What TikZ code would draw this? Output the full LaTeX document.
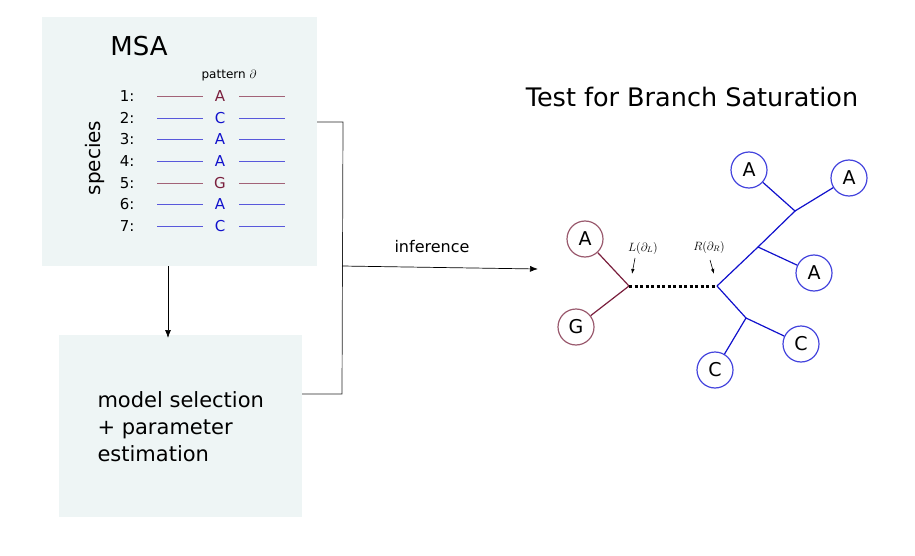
\documentclass[tikz,border=0pt]{standalone}
\usepackage{fontspec}
\setmainfont{DejaVu Sans}
\usetikzlibrary{arrows.meta}
\definecolor{boxbg}{HTML}{EEF5F5}
\definecolor{redc}{HTML}{7A1F3D}
\definecolor{redl}{HTML}{9A5A6E}
\definecolor{bluec}{HTML}{1111CC}
\definecolor{bluel}{HTML}{4444DD}
\tikzset{
  bg/.style={fill=boxbg,draw=none},
  seqline/.style={line width=0.9pt},
  leaf/.style={circle,draw,line width=1.2pt,minimum size=36pt,inner sep=0pt,font=\fontsize{19}{19}\selectfont,fill=white},
  arr/.style={-{Latex[length=8pt,width=6pt]},line width=0.7pt},
  conn/.style={line width=0.7pt,black!85},
}
\begin{document}
\begin{tikzpicture}[x=1pt,y=-1pt]
\useasboundingbox (0,0) rectangle (915,556);
% boxes
\node[bg,minimum width=275pt,minimum height=249pt,inner sep=0pt,anchor=north west] (msa) at (42,17) {};
\node[bg,minimum width=243pt,minimum height=182pt,inner sep=0pt,anchor=north west] (model) at (59,335) {};
\node[font=\fontsize{26}{26}\selectfont] (msat) at (139,46) {MSA};
\node[font=\fontsize{12}{12}\selectfont] (pat) at (229,76) {pattern $\partial$};
\node[rotate=90,font=\fontsize{20}{20}\selectfont] (spec) at (95,158) {species};
\foreach \i/\l/\c/\y in {1/A/redc/96,2/C/bluec/118,3/A/bluec/139,4/A/bluec/161,5/G/redc/183,6/A/bluec/204,7/C/bluec/226}{
  \node[font=\fontsize{15}{15}\selectfont,anchor=east] (n\i) at (138,\y) {\i:};
  \node[font=\fontsize{15}{15}\selectfont,text=\c] (s\i) at (220,\y) {\l};
  \coordinate (la\i) at (157,\y);
  \coordinate (lb\i) at (203,\y);
  \coordinate (ra\i) at (239,\y);
  \coordinate (rb\i) at (285,\y);
  \draw[seqline,draw=\c!70] (la\i) -- (lb\i);
  \draw[seqline,draw=\c!70] (ra\i) -- (rb\i);
}
\node[font=\fontsize{21}{27}\selectfont,align=left,anchor=west] (mt) at (94,427) {model selection\\+ parameter\\estimation};
% connectors
\coordinate (d1) at (168,266);
\coordinate (d2) at (168,338);
\draw[arr] (d1) -- (d2);
\coordinate (b1) at (317,122);
\coordinate (b2) at (343,122);
\coordinate (b3) at (342,394);
\coordinate (b4) at (302,394);
\coordinate (bm) at (342,266);
\coordinate (be) at (538,269);
\draw[conn] (b1) -- (b2) -- (b3) -- (b4);
\draw[arr] (bm) -- (be);
\node[font=\fontsize{16}{16}\selectfont] (inf) at (432,247) {inference};
\node[font=\fontsize{25.5}{26}\selectfont] (title) at (692,97) {Test for Branch Saturation};
% tree
\coordinate (L) at (629,286);
\coordinate (R) at (717,286);
\coordinate (j1) at (746,318);
\coordinate (j2) at (758,247);
\coordinate (j3) at (795,211);
\node[leaf,draw=redl] (lA) at (585,239) {A};
\node[leaf,draw=redl] (lG) at (576,327) {G};
\node[leaf,draw=bluel] (c1) at (715,370) {C};
\node[leaf,draw=bluel] (c2) at (801,344) {C};
\node[leaf,draw=bluel] (a1) at (814,273) {A};
\node[leaf,draw=bluel] (a2) at (749,170) {A};
\node[leaf,draw=bluel] (a3) at (849,178) {A};
\draw[redc,line width=1.2pt] (lA) -- (L) -- (lG);
\draw[bluec,line width=1.2pt] (c1) -- (j1) -- (c2);
\draw[bluec,line width=1.2pt] (R) -- (j1);
\draw[bluec,line width=1.2pt] (R) -- (j2) -- (a1);
\draw[bluec,line width=1.2pt] (j2) -- (j3) -- (a2);
\draw[bluec,line width=1.2pt] (j3) -- (a3);
\draw[line width=3pt,dash pattern=on 3pt off 2.5pt] (L) -- (R);
\node[font=\fontsize{12}{12}\selectfont] (Ll) at (643,248) {$L(\partial_L)$};
\node[font=\fontsize{12}{12}\selectfont] (Rl) at (709,247) {$R(\partial_R)$};
\coordinate (La) at (635,258);
\coordinate (Lb) at (632,274);
\coordinate (Ra) at (710,260);
\coordinate (Rb) at (714,274);
\draw[-{Latex[length=5pt,width=3.5pt]},line width=0.6pt] (La) -- (Lb);
\draw[-{Latex[length=5pt,width=3.5pt]},line width=0.6pt] (Ra) -- (Rb);
\end{tikzpicture}
\end{document}
